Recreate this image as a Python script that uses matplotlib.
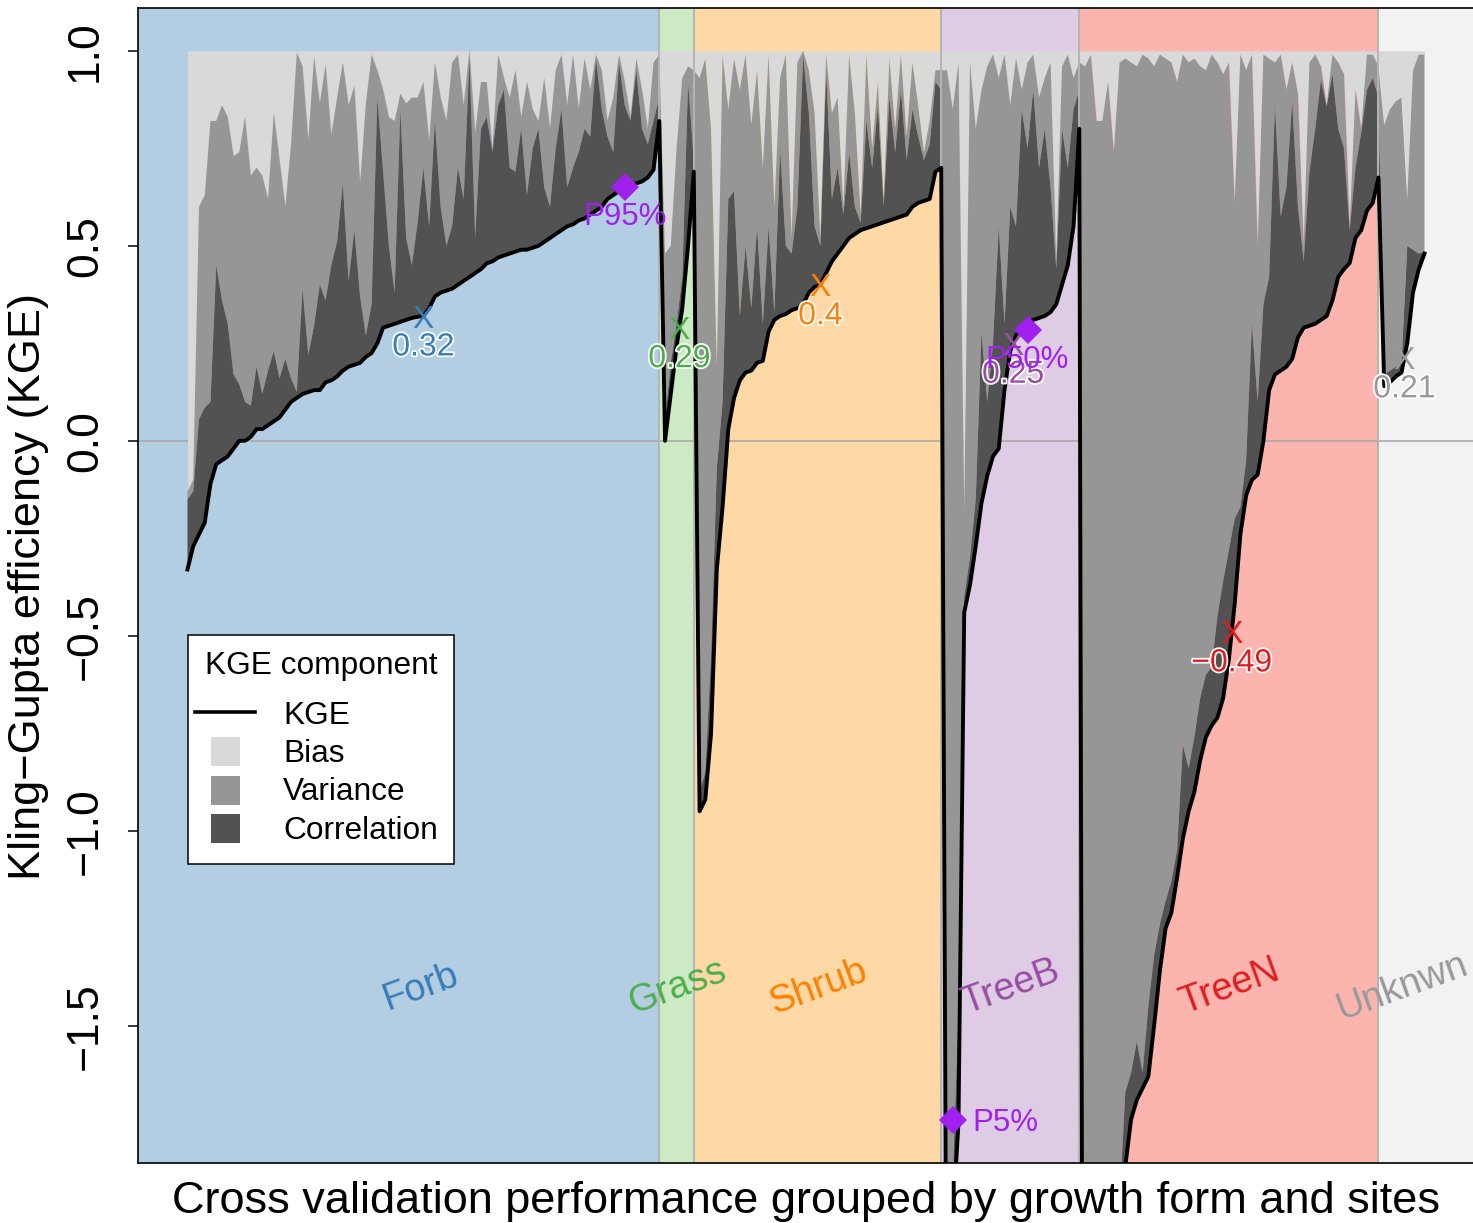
import numpy as np
import matplotlib
matplotlib.use("Agg")
import matplotlib.pyplot as plt
from matplotlib.patches import Rectangle
from matplotlib.lines import Line2D
from matplotlib import patheffects as pe
import matplotlib.transforms as mtransforms

plt.rcParams['font.family'] = ['Liberation Sans', 'DejaVu Sans']

# ---------------- data ----------------
groups = ['Forb', 'Grass', 'Shrub', 'TreeB', 'TreeN', 'Unknwn']
bg_colors = ['#B3CDE3', '#CCEBC5', '#FED9A6', '#DECBE4', '#FBB4AE', '#F2F2F2']
txt_colors = ['#377EB8', '#4DAF4A', '#FF7F00', '#984EA3', '#E41A1C', '#999999']

# KGE per site (sorted within group)
forb_kge = [-0.33, -0.27, -0.24, -0.21, -0.11, -0.06, -0.05, -0.04, -0.02, 0.00,
            0.00, 0.01, 0.03, 0.03, 0.04, 0.05, 0.06, 0.08, 0.10, 0.11,
            0.12, 0.125, 0.13, 0.13, 0.15, 0.155, 0.165, 0.18, 0.19, 0.195,
            0.20, 0.215, 0.225, 0.25, 0.29, 0.295, 0.30, 0.305, 0.31, 0.315,
            0.318, 0.32, 0.34, 0.37, 0.38, 0.385, 0.39, 0.40, 0.41, 0.42,
            0.43, 0.44, 0.455, 0.46, 0.47, 0.475, 0.48, 0.485, 0.49, 0.49,
            0.495, 0.50, 0.51, 0.52, 0.53, 0.54, 0.55, 0.555, 0.565, 0.57,
            0.58, 0.59, 0.60, 0.62, 0.63, 0.64, 0.65, 0.655, 0.66, 0.665,
            0.675, 0.695, 0.82]
grass_kge = [0.00, 0.12, 0.24, 0.34, 0.50, 0.69]
shrub_kge = [-0.95, -0.92, -0.75, -0.33, -0.17, 0.03, 0.11, 0.155, 0.175, 0.18,
             0.20, 0.205, 0.28, 0.31, 0.32, 0.325, 0.335, 0.34, 0.35, 0.38,
             0.395, 0.40, 0.43, 0.46, 0.48, 0.50, 0.52, 0.53, 0.54, 0.545,
             0.55, 0.555, 0.56, 0.565, 0.57, 0.575, 0.58, 0.60, 0.61, 0.615,
             0.62, 0.69, 0.70]
treeb_kge = [-2.6, -2.0, -1.75, -0.44, -0.37, -0.27, -0.16, -0.09, -0.04, -0.02,
             0.13, 0.23, 0.27, 0.29, 0.30, 0.31, 0.315, 0.32, 0.33, 0.35,
             0.40, 0.45, 0.55, 0.80]
treen_kge = [-5.0, -4.3, -3.7, -3.2, -2.8, -2.45, -2.15, -1.86, -1.74, -1.69,
             -1.66, -1.63, -1.50, -1.36, -1.25, -1.21, -1.12, -1.02, -0.95, -0.90,
             -0.82, -0.76, -0.73, -0.71, -0.66, -0.56, -0.42, -0.24, -0.14, -0.10,
             -0.087, 0.0, 0.13, 0.17, 0.18, 0.19, 0.21, 0.265, 0.29, 0.295,
             0.30, 0.31, 0.32, 0.36, 0.42, 0.44, 0.456, 0.52, 0.54, 0.59,
             0.61, 0.675]
unk_kge = [0.14, 0.15, 0.165, 0.175, 0.25, 0.38, 0.44, 0.48]

# lower edge of the Bias band (band spans from here up to 1)
forb_bias_low = [-0.13, -0.10, 0.60, 0.63, 0.82, 0.82, 0.86, 0.83, 0.73, 0.74,
                 0.83, 0.68, 0.70, 0.68, 0.62, 0.84, 0.72, 0.60, 0.76, 0.995,
                 0.96, 0.77, 0.985, 0.865, 0.965, 0.785, 0.88, 0.97, 0.86, 0.91,
                 0.66, 0.865, 0.99, 0.95, 0.90, 0.83, 0.82, 0.89, 0.865, 0.88,
                 0.88, 0.92, 0.77, 0.97, 0.88, 0.82, 0.97, 0.99, 0.86, 1.00,
                 0.79, 0.92, 0.92, 0.75, 0.99, 0.93, 0.88, 0.95, 0.83, 0.92,
                 0.85, 0.82, 0.93, 0.80, 0.95, 0.99, 0.86, 0.99, 0.85, 0.98,
                 0.90, 0.99, 0.95, 0.82, 0.88, 0.99, 0.92, 0.83, 0.98, 0.90,
                 0.80, 0.97, 0.99]
grass_bias_low = [0.48, 0.50, 0.75, 0.93, 0.96, 0.95]
shrub_bias_low = [0.93, 0.98, 0.80, 0.19, 0.99, 0.85, 0.98, 0.90, 0.99, 0.81,
                  0.95, 0.70, 0.99, 0.60, 0.93, 0.99, 0.52, 0.97, 1.00, 0.95,
                  0.84, 0.52, 0.99, 0.84, 0.88, 0.60, 0.99, 0.84, 0.58, 0.99,
                  0.75, 0.92, 0.62, 0.98, 0.80, 0.99, 0.78, 0.97, 0.86, 0.74,
                  0.82, 0.95, 0.95]
treeb_bias_low = [0.95, 0.85, 0.97, -0.18, 0.97, 0.80, 0.90, 0.96, 0.99, 0.93,
                  0.99, 0.86, 0.98, 0.90, 0.97, 0.99, 0.88, 0.93, 0.97, 0.46,
                  0.96, 0.99, 0.93, 0.97]
treen_bias_low = [0.96, 0.99, 0.82, 0.82, 0.92, 0.74, 0.97, 0.98, 0.97, 0.96,
                  0.99, 0.98, 0.96, 0.99, 0.98, 0.97, 0.92, 0.99, 0.97, 0.98,
                  0.96, 0.95, 0.99, 0.97, 0.94, 0.97, 0.61, 0.99, 0.95, 0.99,
                  0.50, 0.99, 0.98, 0.97, 0.99, 0.90, 0.97, 0.89, 0.50, 0.97,
                  0.99, 0.96, 0.86, 0.99, 0.97, 0.94, 0.55, 0.90, 0.80, 0.99,
                  0.99, 0.96]
unk_bias_low = [0.81, 0.85, 0.87, 0.88, 0.62, 0.95, 0.99, 0.99]

# upper edge of the Correlation band (band spans from KGE up to here)
forb_corr_top = [-0.15, -0.13, 0.055, 0.085, 0.10, 0.45, 0.36, 0.30, 0.17, 0.145,
                 0.10, 0.09, 0.19, 0.12, 0.18, 0.23, 0.16, 0.21, 0.16, 0.125,
                 0.39, 0.22, 0.295, 0.40, 0.36, 0.45, 0.51, 0.66, 0.41, 0.54,
                 0.37, 0.27, 0.35, 0.88, 0.69, 0.50, 0.38, 0.85, 0.52, 0.45,
                 0.56, 0.70, 0.55, 0.82, 0.60, 0.50, 0.55, 0.70, 0.62, 0.98,
                 0.52, 0.80, 0.83, 0.74, 0.86, 0.90, 0.70, 0.69, 0.80, 0.63,
                 0.75, 0.80, 0.65, 0.60, 0.75, 0.85, 0.65, 0.70, 0.74, 0.80,
                 0.78, 0.98, 0.85, 0.78, 0.74, 0.97, 0.86, 0.82, 0.95, 0.80,
                 0.76, 0.82, 0.88]
grass_corr_top = [0.05, 0.20, 0.30, 0.42, 0.92, 0.72]
shrub_corr_top = [-0.90, -0.85, -0.55, -0.07, 0.10, 0.62, 0.64, 0.32, 0.50, 0.34,
                  0.55, 0.30, 0.55, 0.33, 0.75, 0.50, 0.48, 0.60, 0.99, 0.84,
                  0.55, 0.50, 0.95, 0.62, 0.70, 0.58, 0.74, 0.60, 0.56, 0.82,
                  0.70, 0.86, 0.60, 0.88, 0.74, 0.90, 0.72, 0.85, 0.78, 0.72,
                  0.76, 0.92, 0.90]
treeb_corr_top = [-2.5, -1.9, -1.45, -0.40, -0.30, -0.15, 0.28, 0.10, 0.25, 0.55,
                  0.30, 0.60, 0.55, 0.85, 0.75, 0.90, 0.70, 0.80, 0.65, 0.44,
                  0.80, 0.70, 0.85, 0.90]
treen_corr_top = [-4.8, -4.1, -3.5, -3.0, -2.6, -2.25, -1.95, -1.67, -1.62, -1.54,
                  -1.62, -1.45, -1.32, -1.24, -1.18, -1.13, -1.05, -0.78, -0.84, -0.76,
                  -0.66, -0.60, -0.58, -0.45, -0.36, -0.28, -0.20, -0.17, -0.05, 0.30,
                  0.10, 0.35, 0.42, 0.86, 0.575, 0.65, 0.87, 0.60, 0.46, 0.69,
                  0.80, 0.925, 0.857, 0.94, 0.80, 0.75, 0.54, 0.70, 0.79, 0.90,
                  0.93, 0.88]
unk_corr_top = [0.17, 0.18, 0.19, 0.20, 0.50, 0.49, 0.48, 0.485]

pct_labels = ['P95%', 'P50%', 'P5%']
pct_values = [0.651, 0.285, -1.742]
pct_sites = [77, 147, 134]

yticks = [1.0, 0.5, 0.0, -0.5, -1.0, -1.5]
ytick_labels = ['1.0', '0.5', '0.0', '\u22120.5', '\u22121.0', '\u22121.5']

legend_title = 'KGE component'
legend_items = ['KGE', 'Bias', 'Variance', 'Correlation']
comp_colors = {'Bias': '#D9D9D9', 'Variance': '#969696', 'Correlation': '#525252'}

# ---------------- assemble ----------------
kge_lists = [forb_kge, grass_kge, shrub_kge, treeb_kge, treen_kge, unk_kge]
bias_lists = [forb_bias_low, grass_bias_low, shrub_bias_low, treeb_bias_low, treen_bias_low, unk_bias_low]
corr_lists = [forb_corr_top, grass_corr_top, shrub_corr_top, treeb_corr_top, treen_corr_top, unk_corr_top]

kge = np.concatenate(kge_lists)
bias_low = np.concatenate(bias_lists)
corr_top = np.concatenate(corr_lists)
n = len(kge)
x = np.arange(1, n + 1)
counts = [len(k) for k in kge_lists]
ends = np.cumsum(counts)
starts = np.concatenate([[0], ends[:-1]])

xpad = 0.04 * (n - 1)
xlim = (1 - xpad, n + xpad)
ylo_d, yhi_d = pct_values[2], 1.0
ypad = 0.04 * (yhi_d - ylo_d)
ylim = (ylo_d - ypad, yhi_d + ypad)

W, H = 1473, 1223
fig = plt.figure(figsize=(W / 100, H / 100), dpi=100)
ax = fig.add_axes([138 / W, 1 - 1163 / H, (1474 - 138) / W, (1163 - 8) / H])
ax.set_xlim(*xlim)
ax.set_ylim(*ylim)

# group backgrounds
edges = [xlim[0]] + list(ends[:-1]) + [xlim[1]]
for gi in range(len(groups)):
    ax.add_patch(Rectangle((edges[gi], ylim[0]), edges[gi + 1] - edges[gi], ylim[1] - ylim[0],
                           facecolor=bg_colors[gi], edgecolor='none', zorder=0))
ax.axhline(0, color='#AAAAAA', lw=1.2, zorder=0.5)

# stacked components
ax.fill_between(x, bias_low, 1.0, color=comp_colors['Bias'], lw=0, zorder=1)
ax.fill_between(x, corr_top, bias_low, color=comp_colors['Variance'], lw=0, zorder=1)
ax.fill_between(x, kge, corr_top, color=comp_colors['Correlation'], lw=0, zorder=1)

for e in ends[:-1]:
    ax.axvline(e, color='#B4B4B4', lw=1.4, zorder=1.5)

ax.plot(x, kge, color='black', lw=2.8, zorder=2, solid_joinstyle='round')

# medians
halo = [pe.withStroke(linewidth=2.5, foreground='white')]
for gi in range(len(groups)):
    vals = np.array(kge_lists[gi])
    med = float(np.median(vals))
    mid = (starts[gi] + 1 + ends[gi]) / 2.0
    ax.annotate('X', xy=(mid, med), xytext=(0, -8.3), textcoords='offset points',
                ha='center', va='baseline', fontsize=23, color=txt_colors[gi], zorder=3)
    lab = ('%g' % round(med, 2)).replace('-', '\u2212')
    ax.annotate(lab, xy=(mid, med), xytext=(0, -28.4), textcoords='offset points',
                ha='center', va='baseline', fontsize=23, color=txt_colors[gi], zorder=3,
                path_effects=halo)
    ax.text(mid - 0.4, -1.40, groups[gi], rotation=20, rotation_mode='anchor',
            ha='center', va='center', fontsize=27.3, color=txt_colors[gi], zorder=3)

# percentile markers
pcol = '#A020F0'
for lab, val, site in zip(pct_labels, pct_values, pct_sites):
    ax.plot([site], [val], marker='D', ms=14, color=pcol, mew=0, zorder=4, clip_on=False)
    if lab == 'P5%':
        ax.annotate(lab, xy=(site, val), xytext=(14.5, -8.0), textcoords='offset points',
                    ha='left', va='baseline', fontsize=22.5, color=pcol, zorder=4)
    else:
        ax.annotate(lab, xy=(site, val), xytext=(0, -27.7), textcoords='offset points',
                    ha='center', va='baseline', fontsize=22.5, color=pcol, zorder=4)

# axes styling
ax.set_xticks([])
ax.set_yticks(yticks)
ax.set_yticklabels([])
ax.tick_params(axis='y', direction='out', length=7.2, width=1.1, color='black')
for s in ax.spines.values():
    s.set_linewidth(1.2)
    s.set_color('black')
    s.set_zorder(6)

def fx(px):
    return px / W

def fy(py):
    return 1 - py / H

for t, lab in zip(yticks, ytick_labels):
    ytr = mtransforms.blended_transform_factory(fig.transFigure, ax.transData)
    ax.text(fx(97), t, lab, transform=ytr, rotation=90, rotation_mode='anchor',
            ha='center', va='baseline', fontsize=32, clip_on=False)

fig.text(fx(40), fy(586), 'Kling\u2212Gupta efficiency (KGE)', rotation=90, rotation_mode='anchor',
         ha='center', va='baseline', fontsize=32.5)
fig.text(fx(806), fy(1213), 'Cross validation performance grouped by growth form and sites',
         ha='center', va='baseline', fontsize=32.5)

# legend (drawn by hand)
fig.add_artist(Rectangle((fx(188), fy(864)), (454 - 188) / W, (864 - 635) / H,
                         transform=fig.transFigure, facecolor='white', edgecolor='black',
                         lw=1.1, zorder=10))
fig.text(fx(321), fy(674), legend_title, ha='center', va='baseline', fontsize=22.8, zorder=11)
fig.add_artist(Line2D([fx(195), fx(255)], [fy(712), fy(712)], transform=fig.transFigure,
                      color='black', lw=2.6, zorder=11))
ybase = [724, 762, 800, 839]
ysq = [None, 751.5, 790, 828.5]
for i, item in enumerate(legend_items):
    fig.text(fx(283), fy(ybase[i]), item, ha='left', va='baseline', fontsize=22.8, zorder=11)
    if i > 0:
        fig.add_artist(Rectangle((fx(211), fy(ysq[i] + 14.5)), 29 / W, 29 / H,
                                 transform=fig.transFigure, facecolor=comp_colors[item],
                                 edgecolor='none', zorder=11))

fig.savefig('out.png', dpi=100)
